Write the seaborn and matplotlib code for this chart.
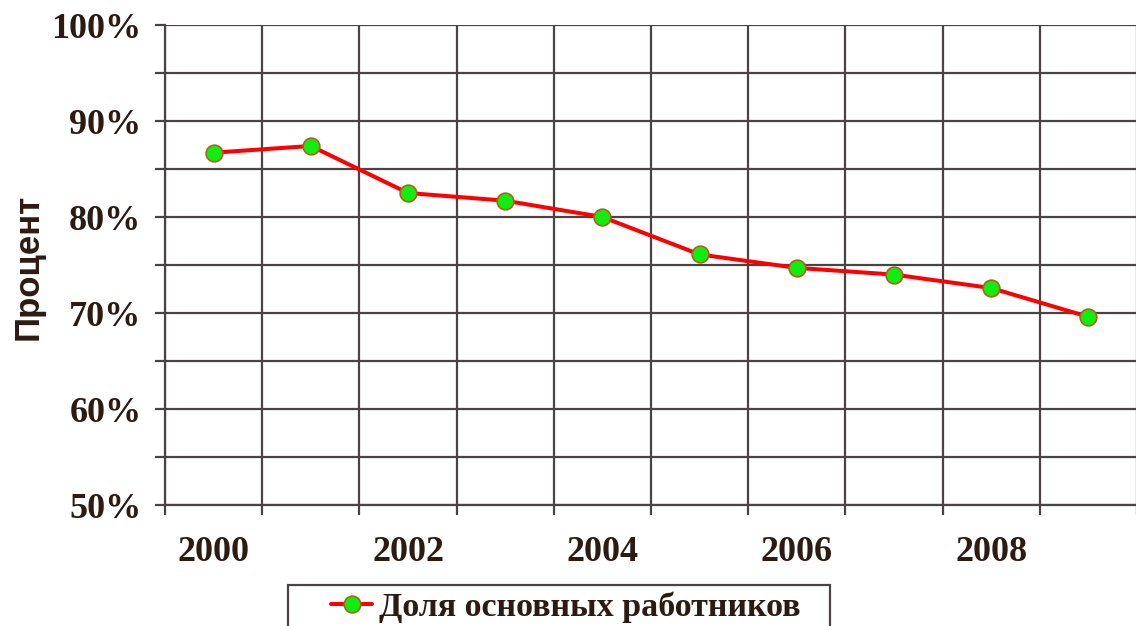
import pandas as pd
import matplotlib.pyplot as plt
import seaborn as sns
from matplotlib.patches import Rectangle
from matplotlib.ticker import MultipleLocator, FuncFormatter

# data
years = [2000, 2001, 2002, 2003, 2004, 2005, 2006, 2007, 2008, 2009]
share = [86.7, 87.4, 82.5, 81.7, 80.0, 76.1, 74.7, 74.0, 72.6, 69.6]
year_labels = ['2000', '', '2002', '', '2004', '', '2006', '', '2008', '']
series_name = 'Доля основных работников'

data = pd.DataFrame({'pos': range(len(years)), 'share': share})

text_color = '#2b1b12'
grid_color = '#4a4343'

sns.set_style('white')
plt.rcParams['font.family'] = ['Liberation Serif', 'DejaVu Serif']

fig = plt.figure(figsize=(11.36, 6.26), dpi=100)
ax = fig.add_axes([165 / 1136, 1 - 505 / 626, 972 / 1136, 480 / 626])

sns.lineplot(x='pos', y='share', data=data, ax=ax, color='#ff0000', linewidth=2.9,
             marker='o', markersize=12, markerfacecolor='#10ee10',
             markeredgecolor='#b0601a', markeredgewidth=1.2, label=series_name,
             legend=False, zorder=5)

ax.set_xlim(-0.5, len(years) - 0.5)
ax.set_ylim(50, 100)

# y axis: labels every 10%, grid every 5%
ax.yaxis.set_major_locator(MultipleLocator(10))
ax.yaxis.set_minor_locator(MultipleLocator(5))
ax.yaxis.set_major_formatter(FuncFormatter(lambda v, p: f'{v:.0f}%'))

# x axis: labels on categories, grid between them
ax.set_xticks(range(len(years)))
ax.set_xticklabels(year_labels)
ax.set_xticks([i - 0.5 for i in range(len(years) + 1)], minor=True)

ax.grid(False)
ax.grid(which='both', axis='y', color=grid_color, linewidth=1.6)
ax.grid(which='minor', axis='x', color=grid_color, linewidth=1.6)

ax.tick_params(axis='y', which='both', direction='out', length=7, width=1.6,
               color=grid_color, left=True, pad=10)
ax.tick_params(axis='y', which='major', labelsize=26, labelcolor=text_color)
ax.tick_params(axis='x', which='minor', direction='out', length=7, width=1.6,
               color=grid_color, bottom=True)
ax.tick_params(axis='x', which='major', length=0, pad=22, labelsize=26,
               labelcolor=text_color)
for lbl in ax.get_xticklabels() + ax.get_yticklabels():
    lbl.set_fontweight('bold')

for side in ['top', 'right']:
    ax.spines[side].set_visible(False)
for side in ['left', 'bottom']:
    ax.spines[side].set_color(grid_color)
    ax.spines[side].set_linewidth(1.6)

ax.set_xlabel('')
ax.set_ylabel('Процент', fontsize=25, fontweight='bold', color=text_color,
              family=['Liberation Sans', 'DejaVu Sans'])
ax.yaxis.set_label_coords(-0.124, 0.496)

# legend box at the bottom (partly cut off by the figure edge)
fig.patches.append(Rectangle((288 / 1136, 1 - 660 / 626), 542 / 1136, 75 / 626,
                             transform=fig.transFigure, fill=False,
                             edgecolor=grid_color, linewidth=1.6))
handles, labels = ax.get_legend_handles_labels()
fig.legend(handles, labels, loc='center', bbox_to_anchor=(566 / 1136, 1 - 607 / 626),
           frameon=False, borderpad=0, handlelength=1.2, handletextpad=0.2,
           prop={'size': 24.5, 'weight': 'bold'}, labelcolor=text_color)

plt.savefig('out.png', dpi=100)
